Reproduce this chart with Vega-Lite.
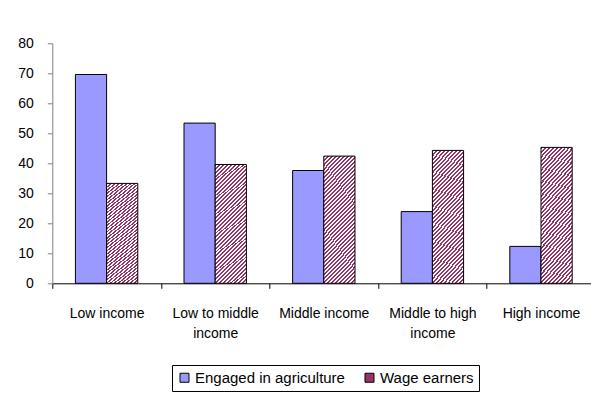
{
  "$schema": "https://vega.github.io/schema/vega-lite/v6.json",
  "width": 543,
  "height": 240,
  "autosize": "none",
  "padding": {"left": 52.3, "top": 43.3, "right": 0, "bottom": 114},
  "background": "white",
  "config": {"view": {"stroke": null}, "font": "Liberation Sans"},
  "data": {"values": [
    {"group": "Low income", "series": "Engaged in agriculture", "value": 69.6},
    {"group": "Low income", "series": "Wage earners", "value": 33.3},
    {"group": "Low to middle income", "series": "Engaged in agriculture", "value": 53.4},
    {"group": "Low to middle income", "series": "Wage earners", "value": 39.6},
    {"group": "Middle income", "series": "Engaged in agriculture", "value": 37.6},
    {"group": "Middle income", "series": "Wage earners", "value": 42.4},
    {"group": "Middle to high income", "series": "Engaged in agriculture", "value": 23.9},
    {"group": "Middle to high income", "series": "Wage earners", "value": 44.3},
    {"group": "High income", "series": "Engaged in agriculture", "value": 12.3},
    {"group": "High income", "series": "Wage earners", "value": 45.3}
  ]},
  "mark": {"type": "bar", "stroke": "black", "strokeWidth": 1},
  "encoding": {
    "x": {
      "field": "group", "type": "nominal", "sort": null,
      "scale": {"paddingInner": 0, "paddingOuter": 0},
      "axis": {
        "title": null, "labelAngle": 0, "tickBand": "extent", "tickSize": 5,
        "tickColor": "black", "domainColor": "black", "labelFontSize": 14,
        "labelColor": "black", "labelPadding": 18, "labelLineHeight": 20,
        "labelExpr": "datum.label == 'Low to middle income' ? ['Low to middle', 'income'] : datum.label == 'Middle to high income' ? ['Middle to high', 'income'] : datum.label"
      }
    },
    "xOffset": {
      "field": "series", "type": "nominal", "sort": null,
      "scale": {"paddingInner": 0, "paddingOuter": 0.741}
    },
    "y": {
      "field": "value", "type": "quantitative",
      "scale": {"domain": [0, 80]},
      "axis": {
        "title": null, "values": [0, 10, 20, 30, 40, 50, 60, 70, 80], "grid": false,
        "tickSize": 5, "tickColor": "#808080", "domainColor": "#808080",
        "labelFontSize": 14, "labelColor": "black", "labelPadding": 14
      }
    },
    "fill": {
      "field": "series", "type": "nominal", "sort": null,
      "scale": {"domain": ["Engaged in agriculture", "Wage earners"], "range": ["#9999ff", "#993366"]},
      "condition": {
        "test": "datum.series === 'Wage earners'",
        "value": {"gradient": "linear", "x1": 0, "y1": 0, "x2": 0.305, "y2": 1.2, "stops": [
{"offset":0,"color":"#993366"},{"offset":0.0125,"color":"#993366"},{"offset":0.0125,"color":"#ffffff"},{"offset":0.025,"color":"#ffffff"},
{"offset":0.025,"color":"#993366"},{"offset":0.0375,"color":"#993366"},{"offset":0.0375,"color":"#ffffff"},{"offset":0.05,"color":"#ffffff"},
{"offset":0.05,"color":"#993366"},{"offset":0.0625,"color":"#993366"},{"offset":0.0625,"color":"#ffffff"},{"offset":0.075,"color":"#ffffff"},
{"offset":0.075,"color":"#993366"},{"offset":0.0875,"color":"#993366"},{"offset":0.0875,"color":"#ffffff"},{"offset":0.1,"color":"#ffffff"},
{"offset":0.1,"color":"#993366"},{"offset":0.1125,"color":"#993366"},{"offset":0.1125,"color":"#ffffff"},{"offset":0.125,"color":"#ffffff"},
{"offset":0.125,"color":"#993366"},{"offset":0.1375,"color":"#993366"},{"offset":0.1375,"color":"#ffffff"},{"offset":0.15,"color":"#ffffff"},
{"offset":0.15,"color":"#993366"},{"offset":0.1625,"color":"#993366"},{"offset":0.1625,"color":"#ffffff"},{"offset":0.175,"color":"#ffffff"},
{"offset":0.175,"color":"#993366"},{"offset":0.1875,"color":"#993366"},{"offset":0.1875,"color":"#ffffff"},{"offset":0.2,"color":"#ffffff"},
{"offset":0.2,"color":"#993366"},{"offset":0.2125,"color":"#993366"},{"offset":0.2125,"color":"#ffffff"},{"offset":0.225,"color":"#ffffff"},
{"offset":0.225,"color":"#993366"},{"offset":0.2375,"color":"#993366"},{"offset":0.2375,"color":"#ffffff"},{"offset":0.25,"color":"#ffffff"},
{"offset":0.25,"color":"#993366"},{"offset":0.2625,"color":"#993366"},{"offset":0.2625,"color":"#ffffff"},{"offset":0.275,"color":"#ffffff"},
{"offset":0.275,"color":"#993366"},{"offset":0.2875,"color":"#993366"},{"offset":0.2875,"color":"#ffffff"},{"offset":0.3,"color":"#ffffff"},
{"offset":0.3,"color":"#993366"},{"offset":0.3125,"color":"#993366"},{"offset":0.3125,"color":"#ffffff"},{"offset":0.325,"color":"#ffffff"},
{"offset":0.325,"color":"#993366"},{"offset":0.3375,"color":"#993366"},{"offset":0.3375,"color":"#ffffff"},{"offset":0.35,"color":"#ffffff"},
{"offset":0.35,"color":"#993366"},{"offset":0.3625,"color":"#993366"},{"offset":0.3625,"color":"#ffffff"},{"offset":0.375,"color":"#ffffff"},
{"offset":0.375,"color":"#993366"},{"offset":0.3875,"color":"#993366"},{"offset":0.3875,"color":"#ffffff"},{"offset":0.4,"color":"#ffffff"},
{"offset":0.4,"color":"#993366"},{"offset":0.4125,"color":"#993366"},{"offset":0.4125,"color":"#ffffff"},{"offset":0.425,"color":"#ffffff"},
{"offset":0.425,"color":"#993366"},{"offset":0.4375,"color":"#993366"},{"offset":0.4375,"color":"#ffffff"},{"offset":0.45,"color":"#ffffff"},
{"offset":0.45,"color":"#993366"},{"offset":0.4625,"color":"#993366"},{"offset":0.4625,"color":"#ffffff"},{"offset":0.475,"color":"#ffffff"},
{"offset":0.475,"color":"#993366"},{"offset":0.4875,"color":"#993366"},{"offset":0.4875,"color":"#ffffff"},{"offset":0.5,"color":"#ffffff"},
{"offset":0.5,"color":"#993366"},{"offset":0.5125,"color":"#993366"},{"offset":0.5125,"color":"#ffffff"},{"offset":0.525,"color":"#ffffff"},
{"offset":0.525,"color":"#993366"},{"offset":0.5375,"color":"#993366"},{"offset":0.5375,"color":"#ffffff"},{"offset":0.55,"color":"#ffffff"},
{"offset":0.55,"color":"#993366"},{"offset":0.5625,"color":"#993366"},{"offset":0.5625,"color":"#ffffff"},{"offset":0.575,"color":"#ffffff"},
{"offset":0.575,"color":"#993366"},{"offset":0.5875,"color":"#993366"},{"offset":0.5875,"color":"#ffffff"},{"offset":0.6,"color":"#ffffff"},
{"offset":0.6,"color":"#993366"},{"offset":0.6125,"color":"#993366"},{"offset":0.6125,"color":"#ffffff"},{"offset":0.625,"color":"#ffffff"},
{"offset":0.625,"color":"#993366"},{"offset":0.6375,"color":"#993366"},{"offset":0.6375,"color":"#ffffff"},{"offset":0.65,"color":"#ffffff"},
{"offset":0.65,"color":"#993366"},{"offset":0.6625,"color":"#993366"},{"offset":0.6625,"color":"#ffffff"},{"offset":0.675,"color":"#ffffff"},
{"offset":0.675,"color":"#993366"},{"offset":0.6875,"color":"#993366"},{"offset":0.6875,"color":"#ffffff"},{"offset":0.7,"color":"#ffffff"},
{"offset":0.7,"color":"#993366"},{"offset":0.7125,"color":"#993366"},{"offset":0.7125,"color":"#ffffff"},{"offset":0.725,"color":"#ffffff"},
{"offset":0.725,"color":"#993366"},{"offset":0.7375,"color":"#993366"},{"offset":0.7375,"color":"#ffffff"},{"offset":0.75,"color":"#ffffff"},
{"offset":0.75,"color":"#993366"},{"offset":0.7625,"color":"#993366"},{"offset":0.7625,"color":"#ffffff"},{"offset":0.775,"color":"#ffffff"},
{"offset":0.775,"color":"#993366"},{"offset":0.7875,"color":"#993366"},{"offset":0.7875,"color":"#ffffff"},{"offset":0.8,"color":"#ffffff"},
{"offset":0.8,"color":"#993366"},{"offset":0.8125,"color":"#993366"},{"offset":0.8125,"color":"#ffffff"},{"offset":0.825,"color":"#ffffff"},
{"offset":0.825,"color":"#993366"},{"offset":0.8375,"color":"#993366"},{"offset":0.8375,"color":"#ffffff"},{"offset":0.85,"color":"#ffffff"},
{"offset":0.85,"color":"#993366"},{"offset":0.8625,"color":"#993366"},{"offset":0.8625,"color":"#ffffff"},{"offset":0.875,"color":"#ffffff"},
{"offset":0.875,"color":"#993366"},{"offset":0.8875,"color":"#993366"},{"offset":0.8875,"color":"#ffffff"},{"offset":0.9,"color":"#ffffff"},
{"offset":0.9,"color":"#993366"},{"offset":0.9125,"color":"#993366"},{"offset":0.9125,"color":"#ffffff"},{"offset":0.925,"color":"#ffffff"},
{"offset":0.925,"color":"#993366"},{"offset":0.9375,"color":"#993366"},{"offset":0.9375,"color":"#ffffff"},{"offset":0.95,"color":"#ffffff"},
{"offset":0.95,"color":"#993366"},{"offset":0.9625,"color":"#993366"},{"offset":0.9625,"color":"#ffffff"},{"offset":0.975,"color":"#ffffff"},
{"offset":0.975,"color":"#993366"},{"offset":0.9875,"color":"#993366"},{"offset":0.9875,"color":"#ffffff"},{"offset":1,"color":"#ffffff"}
        ]}
      },
      "legend": {
        "orient": "none", "legendX": 119.7, "legendY": 321.7, "direction": "horizontal",
        "title": null, "strokeColor": "black", "padding": 5, "symbolType": "square",
        "symbolSize": 81, "symbolStrokeColor": "black", "symbolStrokeWidth": 1, "symbolOpacity": 1,
        "labelFontSize": 15, "labelColor": "black", "columnPadding": 16, "labelOffset": 3,
        "encode": {"symbols": {"update": {
          "stroke": {"value": "black"},
          "strokeWidth": {"value": 1},
          "fill": [
            {"test": "datum.value === 'Wage earners'",
             "value": {"gradient": "linear", "x1": 0, "y1": 0, "x2": 1, "y2": 1, "stops": [
                {"offset": 0, "color": "#993366"}, {"offset": 0.11, "color": "#993366"}, {"offset": 0.11, "color": "#ffffff"}, {"offset": 0.22, "color": "#ffffff"},
                {"offset": 0.22, "color": "#993366"}, {"offset": 0.33, "color": "#993366"}, {"offset": 0.33, "color": "#ffffff"}, {"offset": 0.44, "color": "#ffffff"},
                {"offset": 0.44, "color": "#993366"}, {"offset": 0.56, "color": "#993366"}, {"offset": 0.56, "color": "#ffffff"}, {"offset": 0.67, "color": "#ffffff"},
                {"offset": 0.67, "color": "#993366"}, {"offset": 0.78, "color": "#993366"}, {"offset": 0.78, "color": "#ffffff"}, {"offset": 0.89, "color": "#ffffff"},
                {"offset": 0.89, "color": "#993366"}, {"offset": 1, "color": "#993366"}
             ]}},
            {"value": "#9999ff"}
          ]
        }}}
      }
    }
  }
}
